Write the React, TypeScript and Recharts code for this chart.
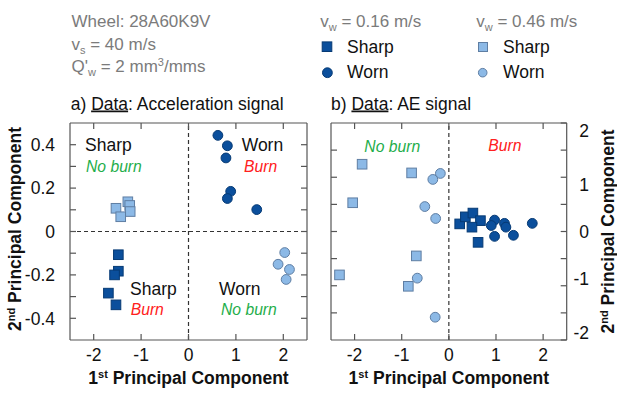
import React from 'react';
import { ScatterChart, Scatter, XAxis, YAxis, ReferenceLine } from 'recharts';

const FONT = '"Liberation Sans", Arial, Helvetica, sans-serif';
const FRAME = '#555';
const DARK = '#0b4f9c';
const DARK_EDGE = '#063a74';
const LIGHT = '#8cb9e6';
const LIGHT_EDGE = '#5f7ea3';
const GREEN = '#1fae4b';
const RED = '#ff2020';
const GREY_TEXT = '#7b7b7b';

// a) Acceleration signal: principal component scores
const accSharpSlowX = [-1.48, -1.48, -1.56, -1.69, -1.53];
const accSharpSlowY = [-0.107, -0.183, -0.2, -0.284, -0.338];
const accWornSlowX = [0.62, 0.82, 0.79, 0.89, 0.82, 1.44];
const accWornSlowY = [0.443, 0.395, 0.339, 0.185, 0.152, 0.101];
const accSharpFastX = [-1.53, -1.28, -1.24, -1.23, -1.43];
const accSharpFastY = [0.107, 0.137, 0.12, 0.092, 0.068];
const accWornFastX = [2.03, 1.89, 2.13, 2.06];
const accWornFastY = [-0.097, -0.151, -0.175, -0.221];

// b) AE signal: principal component scores
const aeSharpSlowX = [0.23, 0.35, 0.51, 0.67, 0.49, 0.62];
const aeSharpSlowY = [0.14, 0.27, 0.34, 0.2, 0.08, -0.2];
const aeWornSlowX = [0.97, 0.9, 1.18, 1.21, 0.97, 1.37, 1.77];
const aeWornSlowY = [0.21, 0.11, 0.15, 0.08, -0.09, -0.07, 0.15];
const aeSharpFastX = [-1.84, -0.79, -2.04, -0.69, -2.32, -0.86];
const aeSharpFastY = [1.24, 1.08, 0.53, -0.45, -0.8, -1.01];
const aeWornFastX = [-0.18, -0.34, -0.51, -0.28, -0.67, -0.29];
const aeWornFastY = [1.07, 0.96, 0.46, 0.24, -0.86, -1.58];

// Axis ticks
const pcXTicks = [-2, -1, 0, 1, 2];
const accYTicks = [-0.4, -0.3, -0.2, -0.1, 0, 0.1, 0.2, 0.3, 0.4];
const accYLabels = [-0.4, -0.2, 0, 0.2, 0.4];
const aeYTicks = [-1.5, -1, -0.5, 0, 0.5, 1, 1.5];
const aeYLabels = [-2, -1, 0, 1, 2];
const aeYRightTicks = [-2, -1.5, -1, -0.5, 0, 0.5, 1, 1.5, 2];

const zip = (xs: number[], ys: number[]) => xs.map((x, i) => ({ x, y: ys[i] }));

const squareShape = (fill: string, edge: string) => (p: any) => (
  <rect x={p.cx - 4.8} y={p.cy - 4.8} width={9.6} height={9.6} fill={fill} stroke={edge} strokeWidth={1} />
);
const circleShape = (fill: string, edge: string) => (p: any) => (
  <circle cx={p.cx} cy={p.cy} r={4.9} fill={fill} stroke={edge} strokeWidth={1} />
);

const tickStyle = { fill: '#111', fontSize: 17.5, fontFamily: FONT };
const lineStyle = { stroke: FRAME, strokeWidth: 1.2 };
const blank = () => '';

const RightTick = (props: any) => {
  const { x, y, payload } = props;
  const v = payload.value;
  if (!aeYLabels.includes(v)) return <g />;
  const shift = v > 0 ? 7.5 : v < 0 ? -7.5 : 0;
  return (
    <text x={x} y={y + shift} dy="0.36em" textAnchor="end" {...tickStyle}>
      {String(v)}
    </text>
  );
};

function frameAxes({ yTicks, yLeftLabels, yDomain, rightTicks, rightTick, leftW, rightW }: any) {
  return [
    <XAxis key="xb" xAxisId="b" type="number" dataKey="x" orientation="bottom" domain={[-2.5, 2.5]}
      ticks={pcXTicks} interval={0} allowDataOverflow height={30} tickSize={-6} tickMargin={14.5}
      tick={tickStyle} axisLine={lineStyle} tickLine={lineStyle} />,
    <XAxis key="xt" xAxisId="t" type="number" dataKey="x" orientation="top" domain={[-2.5, 2.5]}
      ticks={pcXTicks} interval={0} allowDataOverflow height={30} tickSize={-6} tickFormatter={blank}
      axisLine={lineStyle} tickLine={lineStyle} />,
    <YAxis key="yl" yAxisId="l" type="number" dataKey="y" orientation="left" domain={yDomain}
      ticks={yTicks} interval={0} allowDataOverflow width={leftW} tickSize={-6} tickMargin={21}
      tick={tickStyle}
      tickFormatter={(v: number) => (yLeftLabels && yLeftLabels.includes(v) ? String(v) : '')}
      axisLine={lineStyle} tickLine={lineStyle} />,
    <YAxis key="yr" yAxisId="r" type="number" dataKey="y" orientation="right" domain={yDomain}
      ticks={rightTicks} interval={0} allowDataOverflow width={rightW} tickSize={-6} tickMargin={28.3}
      tick={rightTick ? rightTick : tickStyle} tickFormatter={rightTick ? undefined : blank}
      axisLine={lineStyle} tickLine={lineStyle} />,
  ];
}

function AccelerationPanel() {
  return (
    <ScatterChart width={317} height={394} margin={{ top: 93, left: 30, right: 0, bottom: 24 }}>
      {frameAxes({ yTicks: accYTicks, yLeftLabels: accYLabels, yDomain: [-0.5, 0.5], rightTicks: accYTicks, leftW: 40, rightW: 10 })}
      <ReferenceLine xAxisId="b" yAxisId="l" x={0} stroke="#333" strokeWidth={1.2} strokeDasharray="4 3" />
      <ReferenceLine xAxisId="b" yAxisId="l" y={0} stroke="#333" strokeWidth={1.2} strokeDasharray="4 3" />
      <Scatter xAxisId="b" yAxisId="l" data={zip(accSharpFastX, accSharpFastY)} shape={squareShape(LIGHT, LIGHT_EDGE)} isAnimationActive={false} />
      <Scatter xAxisId="b" yAxisId="l" data={zip(accWornFastX, accWornFastY)} shape={circleShape(LIGHT, LIGHT_EDGE)} isAnimationActive={false} />
      <Scatter xAxisId="b" yAxisId="l" data={zip(accSharpSlowX, accSharpSlowY)} shape={squareShape(DARK, DARK_EDGE)} isAnimationActive={false} />
      <Scatter xAxisId="b" yAxisId="l" data={zip(accWornSlowX, accWornSlowY)} shape={circleShape(DARK, DARK_EDGE)} isAnimationActive={false} />
    </ScatterChart>
  );
}

function AEPanel() {
  return (
    <ScatterChart width={300} height={394} margin={{ top: 93, left: 4, right: 0.3, bottom: 24 }}>
      {frameAxes({ yTicks: aeYTicks, yLeftLabels: null, yDomain: [-2, 2], rightTicks: aeYRightTicks, rightTick: RightTick, leftW: 10, rightW: 50 })}
      <ReferenceLine xAxisId="b" yAxisId="l" x={0} stroke="#333" strokeWidth={1.2} strokeDasharray="4 3" />
      <Scatter xAxisId="b" yAxisId="l" data={zip(aeSharpFastX, aeSharpFastY)} shape={squareShape(LIGHT, LIGHT_EDGE)} isAnimationActive={false} />
      <Scatter xAxisId="b" yAxisId="l" data={zip(aeWornFastX, aeWornFastY)} shape={circleShape(LIGHT, LIGHT_EDGE)} isAnimationActive={false} />
      <Scatter xAxisId="b" yAxisId="l" data={zip(aeSharpSlowX, aeSharpSlowY)} shape={squareShape(DARK, DARK_EDGE)} isAnimationActive={false} />
      <Scatter xAxisId="b" yAxisId="l" data={zip(aeWornSlowX, aeWornSlowY)} shape={circleShape(DARK, DARK_EDGE)} isAnimationActive={false} />
    </ScatterChart>
  );
}

function Annotations() {
  const big = { fontSize: 17.5, fontFamily: FONT, fill: '#111' };
  const grey = { fontSize: 17, fontFamily: FONT, fill: GREY_TEXT };
  const note = { fontSize: 15.7, fontFamily: FONT, fontStyle: 'italic' as const };
  const bold = { fontSize: 17.5, fontFamily: FONT, fill: '#111', fontWeight: 700 };
  const ul = { textDecoration: 'underline' };
  return (
    <svg width={617} height={394} style={{ position: 'absolute', left: 0, top: 0, pointerEvents: 'none' }}>
      {/* process conditions */}
      <text x={71.5} y={26.7} {...grey}>Wheel: 28A60K9V</text>
      <text x={71.5} y={50} {...grey}>
        v<tspan dy={4} fontSize={11}>s</tspan><tspan dy={-4}> = 40 m/s</tspan>
      </text>
      <text x={71.5} y={71.7} {...grey}>
        Q'<tspan dy={4} fontSize={11}>w</tspan><tspan dy={-4}> = 2 mm</tspan>
        <tspan dy={-6} fontSize={11}>3</tspan><tspan dy={6}>/mms</tspan>
      </text>

      {/* legend */}
      <text x={320.3} y={26.7} {...grey}>
        v<tspan dy={4} fontSize={11}>w</tspan><tspan dy={-4}> = 0.16 m/s</tspan>
      </text>
      <text x={476.3} y={26.7} {...grey}>
        v<tspan dy={4} fontSize={11}>w</tspan><tspan dy={-4}> = 0.46 m/s</tspan>
      </text>
      <rect x={322.2} y={41.9} width={9.6} height={9.6} fill={DARK} stroke={DARK_EDGE} strokeWidth={1} />
      <circle cx={327.4} cy={72.7} r={4.9} fill={DARK} stroke={DARK_EDGE} strokeWidth={1} />
      <text x={347} y={52.5} {...big}>Sharp</text>
      <text x={347} y={78} {...big}>Worn</text>
      <rect x={478.5} y={42.5} width={9} height={9} fill={LIGHT} stroke={LIGHT_EDGE} strokeWidth={1} />
      <circle cx={482.7} cy={72.7} r={4.3} fill={LIGHT} stroke={LIGHT_EDGE} strokeWidth={1} />
      <text x={503} y={52.5} {...big}>Sharp</text>
      <text x={503} y={78} {...big}>Worn</text>

      {/* panel titles */}
      <text x={70.7} y={109.5} {...big}>
        a) <tspan textDecoration="underline" style={ul}>Data</tspan>: Acceleration signal
      </text>
      <text x={331} y={109.5} {...big}>
        b) <tspan textDecoration="underline" style={ul}>Data</tspan>: AE signal
      </text>

      {/* quadrant notes, panel a */}
      <text x={85} y={150.5} {...big}>Sharp</text>
      <text x={86} y={171.5} {...note} fill={GREEN}>No burn</text>
      <text x={241.7} y={151} {...big}>Worn</text>
      <text x={244} y={171.5} {...note} fill={RED}>Burn</text>
      <text x={130} y={294.7} {...big}>Sharp</text>
      <text x={130.7} y={315.3} {...note} fill={RED}>Burn</text>
      <text x={219} y={294.7} {...big}>Worn</text>
      <text x={221} y={315.3} {...note} fill={GREEN}>No burn</text>

      {/* half-plane notes, panel b */}
      <text x={364.3} y={151.5} {...note} fill={GREEN}>No burn</text>
      <text x={488.3} y={150.7} {...note} fill={RED}>Burn</text>

      {/* axis titles */}
      <text x={188.5} y={383.5} textAnchor="middle" {...bold}>
        1<tspan dy={-6} fontSize={11}>st</tspan><tspan dy={6}> Principal Component</tspan>
      </text>
      <text x={448.8} y={383.5} textAnchor="middle" {...bold}>
        1<tspan dy={-6} fontSize={11}>st</tspan><tspan dy={6}> Principal Component</tspan>
      </text>
      <text transform="translate(20.5,229) rotate(-90)" textAnchor="middle" {...bold}>
        2<tspan dy={-6} fontSize={11}>nd</tspan><tspan dy={6}> Principal Component</tspan>
      </text>
      <text transform="translate(613.5,231.5) rotate(-90)" textAnchor="middle" {...bold}>
        2<tspan dy={-6} fontSize={11}>nd</tspan><tspan dy={6}> Principal Component</tspan>
      </text>
    </svg>
  );
}

export default function App() {
  return (
    <div style={{ position: 'absolute', left: 0, top: 0, width: 617, height: 394, background: '#fff', overflow: 'hidden' }}>
      <div style={{ position: 'absolute', left: 0, top: 0 }}>
        <AccelerationPanel />
      </div>
      <div style={{ position: 'absolute', left: 317, top: 0 }}>
        <AEPanel />
      </div>
      <Annotations />
    </div>
  );
}
